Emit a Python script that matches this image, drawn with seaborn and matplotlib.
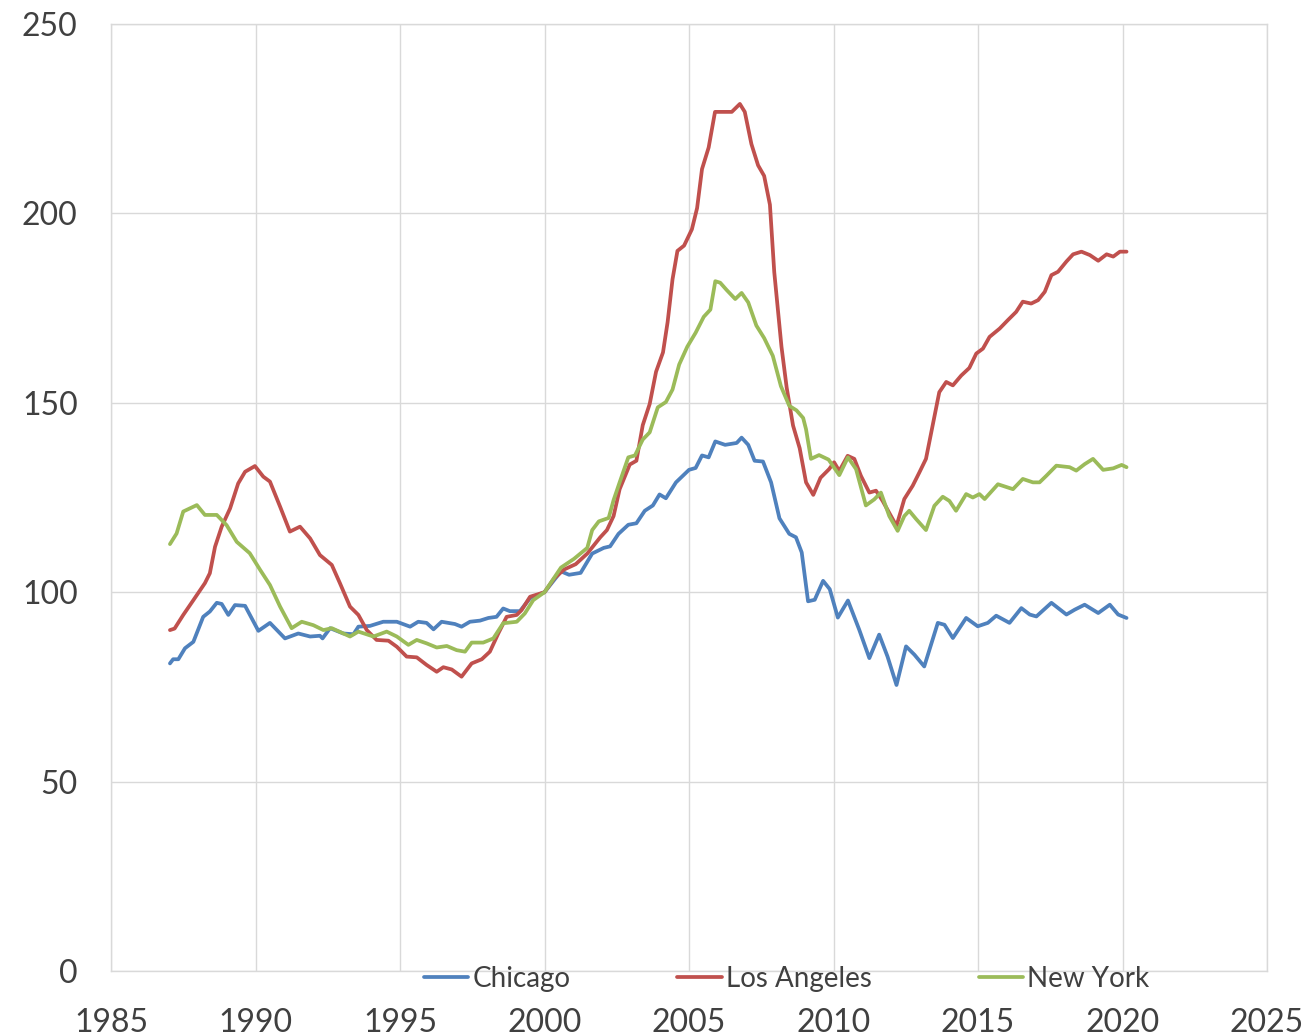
import matplotlib
matplotlib.use("Agg")
import matplotlib.pyplot as plt
import seaborn as sns
import pandas as pd
from matplotlib.lines import Line2D

# ---- data ----
chicago_years = [1987.04, 1987.15, 1987.33, 1987.56, 1987.85, 1988.19, 1988.42, 1988.66, 1988.83, 1989.06,
                 1989.29, 1989.64, 1990.10, 1990.50, 1991.02, 1991.48, 1991.89, 1992.23, 1992.32, 1992.58,
                 1993.04, 1993.39, 1993.56, 1993.96, 1994.42, 1994.89, 1995.35, 1995.63, 1995.92, 1996.16,
                 1996.44, 1996.90, 1997.13, 1997.42, 1997.77, 1998.06, 1998.34, 1998.57, 1998.80, 1999.15,
                 1999.50, 2000.00, 2000.57, 2000.85, 2001.25, 2001.65, 2002.05, 2002.27, 2002.56, 2002.90,
                 2003.18, 2003.47, 2003.75, 2003.98, 2004.20, 2004.55, 2005.00, 2005.23, 2005.45, 2005.68,
                 2005.91, 2006.25, 2006.65, 2006.82, 2007.05, 2007.27, 2007.56, 2007.84, 2008.13, 2008.47,
                 2008.70, 2008.90, 2009.12, 2009.35, 2009.64, 2009.87, 2010.15, 2010.50, 2010.89, 2011.24,
                 2011.58, 2011.87, 2012.18, 2012.51, 2012.80, 2013.14, 2013.61, 2013.84, 2014.13, 2014.59,
                 2014.99, 2015.34, 2015.63, 2016.09, 2016.50, 2016.79, 2017.02, 2017.54, 2018.06, 2018.35,
                 2018.69, 2019.16, 2019.56, 2019.85, 2020.14]
chicago_values = [81.2, 82.3, 82.3, 85.2, 86.9, 93.5, 94.9, 97.2, 96.9, 94.0,
                  96.6, 96.4, 89.8, 91.9, 87.8, 89.1, 88.3, 88.5, 87.8, 90.5,
                  89.1, 88.9, 90.9, 91.1, 92.2, 92.2, 90.9, 92.2, 91.9, 90.2,
                  92.2, 91.6, 90.9, 92.2, 92.5, 93.2, 93.5, 95.7, 95.0, 95.0,
                  98.4, 100.0, 105.5, 104.6, 105.1, 110.2, 111.7, 112.1, 115.4, 117.8,
                  118.2, 121.5, 122.9, 125.8, 124.8, 129.0, 132.3, 132.8, 136.1, 135.6,
                  139.8, 138.9, 139.4, 140.8, 138.9, 134.7, 134.5, 129.0, 119.5, 115.4,
                  114.5, 110.5, 97.6, 98.0, 103.0, 100.8, 93.3, 97.8, 90.1, 82.6,
                  88.8, 83.0, 75.5, 85.7, 83.5, 80.4, 91.9, 91.4, 87.9, 93.2,
                  91.0, 91.9, 93.8, 91.9, 95.8, 94.1, 93.6, 97.2, 94.1, 95.4,
                  96.7, 94.5, 96.7, 94.1, 93.2]

la_years = [1987.04, 1987.20, 1987.50, 1987.85, 1988.25, 1988.42, 1988.60, 1988.83, 1989.12, 1989.40,
            1989.64, 1989.98, 1990.27, 1990.50, 1990.85, 1991.19, 1991.54, 1991.89, 1992.23, 1992.64,
            1992.92, 1993.27, 1993.56, 1993.85, 1994.19, 1994.60, 1994.89, 1995.23, 1995.58, 1995.92,
            1996.27, 1996.50, 1996.79, 1997.13, 1997.48, 1997.83, 1998.11, 1998.40, 1998.69, 1999.04,
            1999.21, 1999.50, 2000.00, 2000.34, 2000.68, 2001.08, 2001.48, 2001.93, 2002.16, 2002.39,
            2002.60, 2002.95, 2003.18, 2003.40, 2003.64, 2003.86, 2004.10, 2004.26, 2004.43, 2004.60,
            2004.83, 2005.10, 2005.28, 2005.45, 2005.68, 2005.90, 2006.14, 2006.48, 2006.76, 2006.93,
            2007.16, 2007.39, 2007.60, 2007.80, 2007.95, 2008.20, 2008.38, 2008.60, 2008.83, 2009.05,
            2009.30, 2009.55, 2009.85, 2010.02, 2010.20, 2010.49, 2010.72, 2010.95, 2011.24, 2011.47,
            2011.70, 2011.99, 2012.18, 2012.45, 2012.74, 2012.97, 2013.20, 2013.43, 2013.66, 2013.90,
            2014.13, 2014.42, 2014.70, 2014.94, 2015.17, 2015.40, 2015.75, 2016.03, 2016.32, 2016.55,
            2016.84, 2017.08, 2017.31, 2017.54, 2017.77, 2018.06, 2018.29, 2018.58, 2018.87, 2019.16,
            2019.45, 2019.68, 2019.91, 2020.14]
la_values = [90.0, 90.4, 94.0, 97.9, 102.4, 105.0, 112.0, 117.3, 122.1, 128.7,
             131.8, 133.3, 130.5, 129.2, 122.6, 116.0, 117.3, 114.2, 109.8, 107.2,
             102.4, 96.2, 94.0, 90.0, 87.4, 87.2, 85.6, 83.0, 82.8, 80.8,
             79.0, 80.2, 79.6, 77.7, 81.2, 82.3, 84.3, 89.1, 93.5, 94.0,
             95.3, 98.8, 100.0, 103.7, 106.0, 107.4, 110.2, 114.5, 116.4, 120.1,
             127.2, 133.7, 134.7, 144.1, 149.7, 158.2, 163.3, 171.3, 182.6, 190.1,
             191.5, 195.8, 201.4, 211.7, 217.4, 226.8, 226.8, 226.8, 228.9, 226.8,
             218.3, 212.7, 209.9, 202.3, 184.5, 164.8, 154.0, 144.0, 138.0, 129.0,
             125.7, 130.2, 132.5, 134.3, 132.0, 136.0, 135.2, 130.7, 126.3, 126.8,
             124.1, 120.1, 117.5, 124.6, 128.1, 131.6, 135.2, 144.0, 152.8, 155.5,
             154.6, 157.2, 159.2, 163.0, 164.3, 167.4, 169.6, 171.8, 174.0, 176.7,
             176.2, 177.1, 179.3, 183.7, 184.6, 187.3, 189.2, 189.9, 189.0, 187.5,
             189.2, 188.6, 189.9, 189.9]

ny_years = [1987.04, 1987.27, 1987.50, 1987.97, 1988.25, 1988.66, 1989.00, 1989.35, 1989.80, 1990.16,
            1990.50, 1990.85, 1991.25, 1991.60, 1992.00, 1992.35, 1992.64, 1993.27, 1993.56, 1994.08,
            1994.54, 1994.89, 1995.29, 1995.58, 1995.92, 1996.27, 1996.62, 1996.96, 1997.25, 1997.48,
            1997.88, 1998.23, 1998.57, 1999.04, 1999.32, 1999.61, 2000.00, 2000.57, 2001.02, 2001.48,
            2001.65, 2001.88, 2002.22, 2002.39, 2002.60, 2002.90, 2003.13, 2003.40, 2003.64, 2003.92,
            2004.20, 2004.43, 2004.66, 2004.94, 2005.23, 2005.51, 2005.74, 2005.91, 2006.08, 2006.30,
            2006.60, 2006.82, 2007.05, 2007.33, 2007.60, 2007.90, 2008.18, 2008.47, 2008.72, 2008.95,
            2009.05, 2009.22, 2009.50, 2009.83, 2010.20, 2010.50, 2010.78, 2011.12, 2011.41, 2011.64,
            2011.93, 2012.22, 2012.45, 2012.62, 2012.86, 2013.20, 2013.49, 2013.78, 2014.01, 2014.24,
            2014.59, 2014.82, 2015.05, 2015.23, 2015.69, 2016.21, 2016.55, 2016.90, 2017.13, 2017.36,
            2017.71, 2018.17, 2018.40, 2018.69, 2018.98, 2019.33, 2019.68, 2019.97, 2020.14]
ny_values = [112.7, 115.5, 121.3, 123.0, 120.4, 120.4, 117.7, 113.3, 110.3, 105.9,
             101.9, 96.2, 90.5, 92.2, 91.3, 90.0, 90.5, 88.3, 89.6, 88.3,
             89.6, 88.3, 86.1, 87.4, 86.5, 85.4, 85.8, 84.7, 84.3, 86.7,
             86.7, 87.8, 91.8, 92.2, 94.4, 97.9, 100.0, 106.5, 108.8, 111.7,
             116.4, 118.7, 119.6, 124.3, 129.0, 135.6, 136.1, 140.3, 142.2, 148.8,
             150.2, 153.5, 160.1, 164.8, 168.5, 172.7, 174.6, 182.1, 181.7, 179.8,
             177.4, 179.0, 176.5, 170.4, 167.1, 162.4, 154.4, 149.2, 148.0, 146.0,
             143.0, 135.2, 136.2, 135.0, 130.9, 135.6, 132.5, 122.9, 124.5, 126.3,
             120.1, 116.2, 120.1, 121.5, 119.3, 116.4, 122.8, 125.2, 124.1, 121.5,
             125.9, 125.0, 125.9, 124.6, 128.5, 127.2, 129.9, 129.0, 129.0, 130.7,
             133.4, 133.0, 132.1, 133.8, 135.2, 132.3, 132.7, 133.6, 133.0]

cities = ["Chicago", "Los Angeles", "New York"]
colors = ["#4F81BD", "#C0504D", "#9BBB59"]
x_ticks = [1985, 1990, 1995, 2000, 2005, 2010, 2015, 2020, 2025]
y_ticks = [0, 50, 100, 150, 200, 250]

df = pd.concat([
    pd.DataFrame({"year": chicago_years, "value": chicago_values, "city": "Chicago"}),
    pd.DataFrame({"year": la_years, "value": la_values, "city": "Los Angeles"}),
    pd.DataFrame({"year": ny_years, "value": ny_values, "city": "New York"}),
], ignore_index=True)

# ---- plot ----
sns.set_theme(style="white")
plt.rcParams["font.family"] = ["Lato", "DejaVu Sans"]

fig = plt.figure(figsize=(13.09, 10.36), dpi=100)
ax = fig.add_axes([111 / 1309, 1 - 971 / 1036, (1267 - 111) / 1309, (971 - 24) / 1036])

sns.lineplot(data=df, x="year", y="value", hue="city", hue_order=cities,
             palette=dict(zip(cities, colors)), estimator=None, sort=True,
             linewidth=2.7, ax=ax, legend=False)

ax.set_xlim(1985, 2025)
ax.set_ylim(0, 250)
ax.set_xticks(x_ticks)
ax.set_yticks(y_ticks)
ax.set_xlabel("")
ax.set_ylabel("")
ax.grid(True, color="#D9D9D9", linewidth=1.0)
ax.set_axisbelow(True)
for s in ax.spines.values():
    s.set_color("#D9D9D9")
    s.set_linewidth(1.0)
ax.tick_params(axis="both", length=0, labelsize=23, colors="#404040")
ax.tick_params(axis="y", pad=24)
ax.tick_params(axis="x", pad=27)

handles = [Line2D([0], [0], color=c, lw=2.7) for c in colors]
fig.legend(handles, cities, loc="center", bbox_to_anchor=(0.601, 1 - 979 / 1036),
           ncol=3, frameon=False, fontsize=20, handlelength=1.6, handletextpad=0.15,
           columnspacing=3.85, labelcolor="#404040", borderpad=0)

fig.savefig("out.png", dpi=100)
